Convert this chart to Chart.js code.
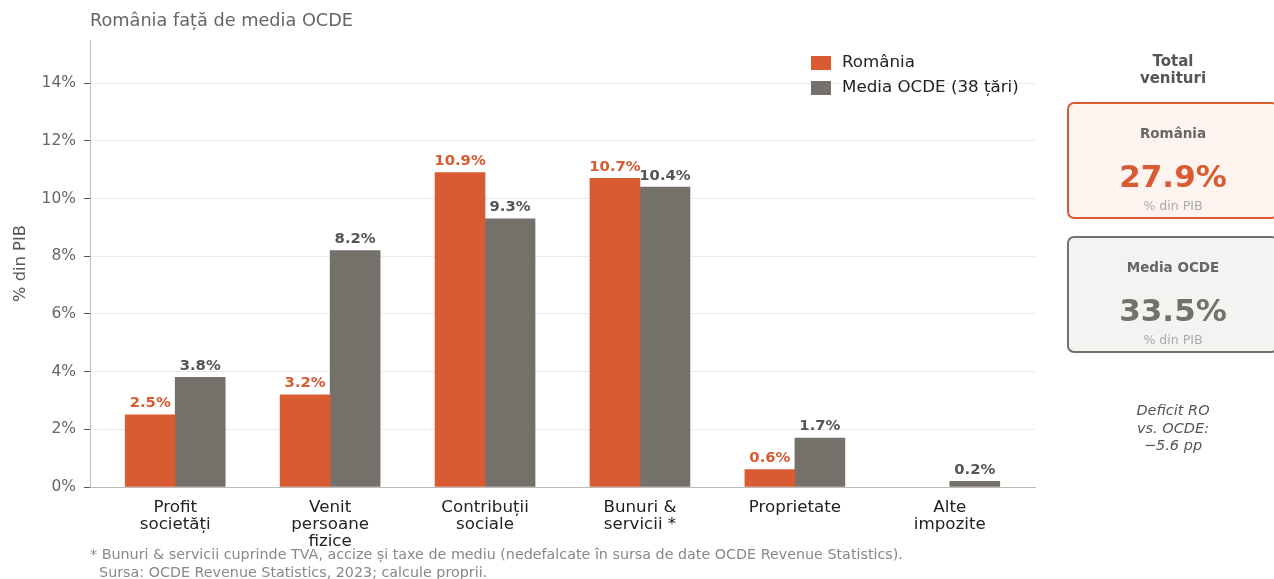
<!DOCTYPE html>
<html>
<head>
<meta charset="utf-8">
<script src="https://cdn.jsdelivr.net/npm/chart.js@4"></script>
<style>
    body { margin: 0; width: 1274px; height: 579px; overflow: hidden; background: #fff; font-family: 'DejaVu Sans', sans-serif; }
    #wrap { position: absolute; left: 0; top: 0; width: 1274px; height: 579px; }
    .t { position: absolute; white-space: pre; transform: translate(-50%, -50%); text-align: center; }
    .box { position: absolute; left: 1067px; width: 212px; border-radius: 7px; box-sizing: border-box; border: 2.5px solid; }
</style>
</head>
<body>
<div id="wrap"><canvas id="chart"></canvas></div>

<div style="position:absolute; left:90px; top:10px; font-size:17.7px; color:#666; white-space:pre;">România față de media OCDE</div>

<div class="box" style="top:102px; height:117px; border-color:#D95B32; background:#FDF3EF;"></div>
<div class="box" style="top:236px; height:117px; border-color:#74716B; background:#F3F3F2;"></div>

<div class="t" style="left:1173px; top:70px; font-size:15px; font-weight:bold; color:#555; line-height:17px;">Total
venituri</div>
<div class="t" style="left:1173px; top:133px; font-size:13.5px; font-weight:bold; color:#666;">România</div>
<div class="t" style="left:1173px; top:176px; font-size:31px; font-weight:bold; color:#D95B32;">27.9%</div>
<div class="t" style="left:1173px; top:205px; font-size:12.5px; color:#aaa;">% din PIB</div>
<div class="t" style="left:1173px; top:267px; font-size:13.5px; font-weight:bold; color:#666;">Media OCDE</div>
<div class="t" style="left:1173px; top:310px; font-size:31px; font-weight:bold; color:#74716B;">33.5%</div>
<div class="t" style="left:1173px; top:339px; font-size:12.5px; color:#aaa;">% din PIB</div>
<div class="t" style="left:1173px; top:428px; font-size:14.5px; font-style:italic; color:#555; line-height:17.5px;">Deficit RO
vs. OCDE:
−5.6 pp</div>

<div style="position:absolute; left:90px; top:545px; font-size:14.3px; line-height:18px; color:#888; white-space:pre;">* Bunuri &amp; servicii cuprinde TVA, accize și taxe de mediu (nedefalcate în sursa de date OCDE Revenue Statistics).
  Sursa: OCDE Revenue Statistics, 2023; calcule proprii.</div>

<script>
// data
const categories = [
    ['Profit', 'societăți'],
    ['Venit', 'persoane', 'fizice'],
    ['Contribuții', 'sociale'],
    ['Bunuri &', 'servicii *'],
    ['Proprietate'],
    ['Alte', 'impozite'],
]
const romania = [2.5, 3.2, 10.9, 10.7, 0.6, 0]
const ocde = [3.8, 8.2, 9.3, 10.4, 1.7, 0.2]
const yTicks = [0, 2, 4, 6, 8, 10, 12, 14]

const RO_COLOR = '#D95B32'
const OCDE_COLOR = '#74716B'

Chart.defaults.font.family = 'DejaVu Sans'

// zero values get no bar at all
function points(values) {
    return values.map((v, i) => ({x: i, y: v === 0 ? null : v}))
}

// value labels above the bars
const barLabels = {
    id: 'barLabels',
    afterDatasetsDraw(chart) {
        const ctx = chart.ctx
        ctx.save()
        ctx.font = 'bold 14.8px "DejaVu Sans"'
        ctx.textAlign = 'center'
        ctx.textBaseline = 'bottom'
        chart.data.datasets.forEach((ds, di) => {
            const meta = chart.getDatasetMeta(di)
            meta.data.forEach((bar, i) => {
                const v = ds.data[i].y
                if (!v) return
                ctx.fillStyle = ds.labelColor
                ctx.fillText(v.toFixed(1) + '%', bar.x, bar.y - 4)
            })
        })
        ctx.restore()
    }
}

// legend drawn inside the plot, top right
const innerLegend = {
    id: 'innerLegend',
    afterDraw(chart) {
        const ctx = chart.ctx
        const x0 = chart.chartArea.right - 224
        let y = 63
        ctx.save()
        ctx.font = '16.7px "DejaVu Sans"'
        ctx.textBaseline = 'middle'
        chart.data.datasets.forEach(ds => {
            ctx.fillStyle = ds.backgroundColor
            ctx.fillRect(x0, y - 7, 20, 14)
            ctx.fillStyle = '#222'
            ctx.fillText(ds.label, x0 + 31, y)
            y += 25
        })
        ctx.restore()
    }
}

new Chart(document.getElementById('chart'), {
    type: 'bar',
    data: {
        datasets: [
            {label: 'România', data: points(romania), backgroundColor: RO_COLOR, labelColor: RO_COLOR},
            {label: 'Media OCDE (38 țări)', data: points(ocde), backgroundColor: OCDE_COLOR, labelColor: '#555'},
        ]
    },
    options: {
        responsive: true,
        maintainAspectRatio: false,
        animation: false,
        barThickness: 50,
        layout: {padding: {top: 40, right: 239, bottom: 0, left: 0}},
        plugins: {
            legend: {display: false},
            tooltip: {enabled: false},
        },
        scales: {
            x: {
                type: 'linear',
                offset: false,
                min: -0.55,
                max: 5.55,
                afterBuildTicks: axis => {
                    axis.ticks = categories.map((c, i) => ({value: i}))
                },
                afterFit: axis => { axis.height = 92 },
                grid: {display: false, drawTicks: false, offset: false},
                border: {display: true, color: '#bbb', width: 1},
                ticks: {
                    autoSkip: false,
                    maxRotation: 0,
                    padding: 12,
                    color: '#222',
                    font: {size: 16.7, lineHeight: '17px'},
                    callback: value => categories[value],
                },
            },
            y: {
                min: 0,
                max: 15.5,
                afterBuildTicks: axis => {
                    axis.ticks = yTicks.map(v => ({value: v}))
                },
                afterFit: axis => { axis.width = 90 },
                grid: {color: '#ebebeb', tickColor: '#555', tickLength: 6},
                border: {display: true, color: '#bbb', width: 1},
                ticks: {
                    padding: 8,
                    color: '#666',
                    font: {size: 15.5},
                    callback: v => v + '%',
                },
                title: {
                    display: true,
                    text: '% din PIB',
                    color: '#555',
                    font: {size: 16.3},
                    padding: {top: 11, bottom: 0},
                },
            },
        },
    },
    plugins: [barLabels, innerLegend],
})
</script>
</body>
</html>
